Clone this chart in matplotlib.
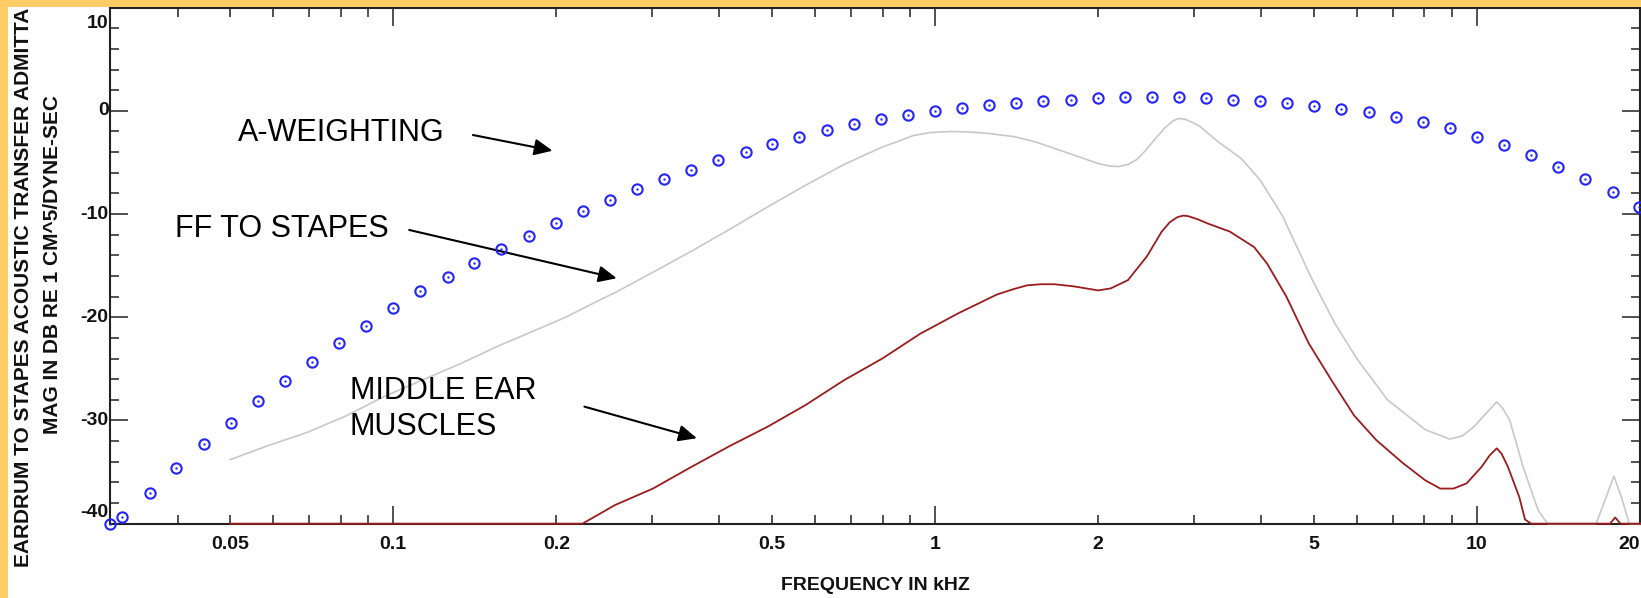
import numpy as np
import matplotlib
matplotlib.use('Agg')
import matplotlib.pyplot as plt
from matplotlib.patches import Rectangle
from matplotlib.ticker import FixedLocator, NullFormatter

# A-weighting points (kHz, dB)
aw_freq = [0.03, 0.0316, 0.0355, 0.0398, 0.0447, 0.0501, 0.0562, 0.0631, 0.0708,
           0.0794, 0.0891, 0.1, 0.112, 0.126, 0.141, 0.158, 0.178, 0.2, 0.224,
           0.251, 0.282, 0.316, 0.355, 0.398, 0.447, 0.501, 0.562, 0.631, 0.708,
           0.794, 0.891, 1.0, 1.12, 1.26, 1.41, 1.58, 1.78, 2.0, 2.24, 2.51, 2.82,
           3.16, 3.55, 3.98, 4.47, 5.01, 5.62, 6.31, 7.08, 7.94, 8.91, 10.0, 11.2,
           12.6, 14.1, 15.8, 17.8, 19.95]
aw_db = [-40.0, -39.4, -37.0, -34.6, -32.3, -30.2, -28.1, -26.2, -24.3,
         -22.5, -20.8, -19.1, -17.5, -16.1, -14.7, -13.4, -12.1, -10.9, -9.7,
         -8.6, -7.6, -6.6, -5.7, -4.8, -4.0, -3.2, -2.5, -1.9, -1.3,
         -0.8, -0.4, 0.0, 0.3, 0.6, 0.8, 1.0, 1.1, 1.2, 1.3, 1.3, 1.3,
         1.2, 1.1, 1.0, 0.8, 0.5, 0.2, -0.1, -0.6, -1.1, -1.7, -2.5, -3.3,
         -4.3, -5.4, -6.6, -7.9, -9.3]

# free field to stapes (light gray)
ff_freq = [0.05, 0.059, 0.069, 0.0815, 0.096, 0.113, 0.133, 0.156, 0.184, 0.208,
           0.241, 0.257, 0.30, 0.355, 0.417, 0.491, 0.577, 0.679, 0.74, 0.80,
           0.86, 0.91, 0.98, 1.07, 1.16, 1.26, 1.40, 1.53, 1.74, 1.9,
           2.0, 2.1, 2.18, 2.27, 2.36, 2.45, 2.54, 2.65, 2.75, 2.82,
           2.89, 2.98, 3.08, 3.33, 3.67, 3.98, 4.37, 4.97, 5.47, 6.02,
           6.84, 8.03, 8.91, 9.4, 9.88, 10.4, 10.88, 11.15, 11.5, 12.17,
           12.97, 13.5, 16.6, 17.3, 17.9, 18.5, 19.1, 20.0]
ff_db = [-33.8, -32.4, -31.2, -29.6, -27.7, -26.1, -24.5, -22.8, -21.2, -20.0,
         -18.3, -17.6, -15.7, -13.6, -11.5, -9.3, -7.2, -5.2, -4.3, -3.5,
         -2.9, -2.4, -2.1, -2.0, -2.05, -2.2, -2.5, -3.0, -4.0, -4.7,
         -5.1, -5.35, -5.4, -5.2, -4.7, -3.8, -2.8, -1.7, -0.95, -0.75,
         -0.8, -1.1, -1.5, -3.0, -4.6, -6.7, -10.1, -16.4, -20.6, -24.1,
         -28.0, -30.9, -31.8, -31.5, -30.6, -29.3, -28.2, -28.8, -30.0, -34.5,
         -38.7, -40.0, -40.0, -37.5, -35.4, -37.5, -40.0, -40.0]

# middle ear muscles (dark red)
me_freq = [0.05, 0.2235, 0.2565, 0.3015, 0.355, 0.417, 0.491, 0.577, 0.679, 0.799,
           0.9385, 1.105, 1.30, 1.39, 1.48, 1.57, 1.66, 1.8, 2.0, 2.11,
           2.27, 2.46, 2.62, 2.71, 2.80, 2.87, 2.93, 3.05, 3.18, 3.50,
           3.88, 4.10, 4.45, 4.89, 5.39, 5.93, 6.52, 7.29, 8.03, 8.56,
           9.05, 9.57, 10.2, 10.55, 10.88, 11.1, 11.41, 11.97, 12.27, 12.6,
           17.6, 18.0, 18.4, 20.0]
me_db = [-40.0, -40.0, -38.2, -36.6, -34.5, -32.5, -30.6, -28.5, -26.1, -24.0,
         -21.6, -19.6, -17.8, -17.3, -16.9, -16.8, -16.8, -17.0, -17.4, -17.2,
         -16.4, -14.1, -11.7, -10.8, -10.3, -10.15, -10.2, -10.5, -10.9, -11.7,
         -13.2, -14.8, -18.0, -22.5, -26.1, -29.5, -31.9, -34.1, -35.8, -36.6,
         -36.6, -36.1, -34.5, -33.4, -32.7, -33.2, -34.5, -37.4, -39.6, -40.0,
         -40.0, -39.4, -40.0, -40.0]

x_ticks = [0.05, 0.1, 0.2, 0.5, 1, 2, 5, 10, 20]
x_ticklabels = ['0.05', '0.1', '0.2', '0.5', '1', '2', '5', '10', '20']
y_ticks = [-40, -30, -20, -10, 0, 10]
y_ticklabels = ['-40', '-30', '-20', '-10', '0', '10']

BOLD = ['Liberation Sans Narrow', 'Liberation Sans', 'DejaVu Sans']
PLAIN = ['Liberation Sans', 'DejaVu Sans']


def main():
    fig = plt.figure(figsize=(16.41, 5.98), dpi=100)
    fig.patch.set_facecolor('white')
    ax = fig.add_axes([0.0670, 0.1243, 0.9324, 0.8629])

    ax.plot(ff_freq, ff_db, color='#c8c8c8', lw=1.2, clip_on=False, zorder=3)
    ax.plot(me_freq, me_db, color='#9b1c1c', lw=1.3, clip_on=False, zorder=3)
    ax.plot(aw_freq, aw_db, ls='none', marker='o', ms=7.4, mfc='none',
            mec='#2424ff', mew=1.5, clip_on=False, zorder=4)
    ax.plot(aw_freq, aw_db, ls='none', marker='o', ms=1.7, mfc='#2424ff',
            mec='#2424ff', mew=0, clip_on=False, zorder=4)

    ax.set_xscale('log')
    ax.set_xlim(0.03, 20)
    ax.set_ylim(-40, 10)

    ax.xaxis.set_major_locator(FixedLocator([0.1, 1, 10]))
    minors = [m * d for d in (0.01, 0.1, 1, 10) for m in range(2, 10)]
    ax.xaxis.set_minor_locator(FixedLocator([v for v in minors if 0.03 <= v <= 20]))
    ax.xaxis.set_minor_formatter(NullFormatter())
    ax.xaxis.set_major_formatter(NullFormatter())
    ax.set_yticks(y_ticks)
    ax.set_yticks(np.arange(-40, 11, 2), minor=True)
    ax.yaxis.set_major_formatter(NullFormatter())

    ax.tick_params(which='both', direction='in', top=True, right=True,
                   color='#222222', width=1.1)
    ax.tick_params(which='major', length=13)
    ax.tick_params(which='minor', length=6.5)
    for s in ax.spines.values():
        s.set_linewidth(1.5)
        s.set_color('#222222')

    lab = dict(fontsize=14, fontweight='bold', family=BOLD, color='#111111')
    # x tick labels under the axis
    for v, t in zip(x_ticks, x_ticklabels):
        ha = 'right' if v == 20 else 'center'
        ax.annotate(t, (v, 0), xycoords=('data', 'axes fraction'),
                    xytext=(0, -9), textcoords='offset points', ha=ha, va='top', **lab)
    # y tick labels, end ones pulled inside the frame
    for v, t in zip(y_ticks, y_ticklabels):
        dy = {10: -11.5, -40: 7.7}.get(v, 0)
        ax.annotate(t, (0, v), xycoords=('axes fraction', 'data'),
                    xytext=(-1, dy), textcoords='offset points', ha='right', va='center', **lab)

    fig.text(875 / 1641, 1 - 586 / 598, 'FREQUENCY IN kHZ', ha='center', va='center', **lab)
    lab['fontsize'] = 15
    # the source image shows this line truncated at the top edge
    fig.text(24 / 1641, 1 - 567 / 598, 'EARDRUM TO STAPES ACOUSTIC TRANSFER ADMITTA',
             rotation=90, ha='center', va='bottom', **lab)
    fig.text(53 / 1641, 1 - 265 / 598, 'MAG IN DB RE 1 CM^5/DYNE-SEC',
             rotation=90, ha='center', va='center', **lab)

    arrow = dict(arrowstyle='-|>,head_length=0.55,head_width=0.25',
                 mutation_scale=20, lw=1.5, color='black', shrinkA=0, shrinkB=0)
    txt = dict(fontsize=22, family=PLAIN, color='black', ha='left', va='center')
    ax.text(0.0517, -2.14, 'A-WEIGHTING', **txt)
    ax.annotate('', xy=(0.1968, -3.86), xytext=(0.1403, -2.34), arrowprops=arrow)
    ax.text(0.0396, -11.44, 'FF TO STAPES', **txt)
    ax.annotate('', xy=(0.2585, -16.22), xytext=(0.1070, -11.54), arrowprops=arrow)
    ax.text(0.0831, -28.9, 'MIDDLE EAR\nMUSCLES', linespacing=1.25, **txt)
    ax.annotate('', xy=(0.3634, -31.72), xytext=(0.2253, -28.66), arrowprops=arrow)

    # orange frame strips at top and left
    fig.patches.append(Rectangle((0, 1 - 7 / 598), 1, 7 / 598, transform=fig.transFigure,
                                 facecolor='#ffcc66', edgecolor='none', zorder=10))
    fig.patches.append(Rectangle((0, 0), 8 / 1641, 1, transform=fig.transFigure,
                                 facecolor='#ffcc66', edgecolor='none', zorder=10))

    fig.savefig('out.png', dpi=100)


if __name__ == '__main__':
    main()
